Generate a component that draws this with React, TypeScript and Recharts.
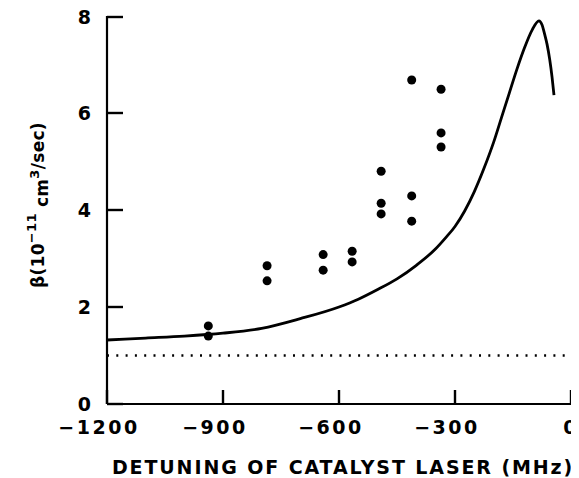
import {
  ComposedChart, Line, Scatter, XAxis, YAxis, ReferenceLine,
} from 'recharts'

// calculated rate curve
const curveDetuning = [-1200, -1100, -1000, -900, -800, -700, -600, -550, -500, -450, -400, -350, -325, -300, -275, -250, -225, -200, -180, -160, -140, -120, -100, -83, -75, -68, -62, -55, -49, -44]
const curveBeta = [1.32, 1.36, 1.40, 1.46, 1.56, 1.76, 2.0, 2.16, 2.36, 2.58, 2.86, 3.2, 3.42, 3.66, 3.98, 4.38, 4.86, 5.4, 5.9, 6.4, 6.9, 7.35, 7.72, 7.9, 7.82, 7.62, 7.42, 7.1, 6.74, 6.37]

// measured points
const pointDetuning = [-938, -938, -786, -786, -641, -641, -566, -566, -491, -491, -491, -412, -412, -412, -336, -336, -336]
const pointBeta = [1.61, 1.40, 2.85, 2.54, 3.08, 2.76, 3.15, 2.93, 4.80, 4.14, 3.92, 6.68, 4.29, 3.77, 6.49, 5.59, 5.30]

const baseline = 1

const xTicks = [-1200, -900, -600, -300, 0]
const yTicks = [0, 2, 4, 6, 8]

const curve = curveDetuning.map((d, i) => ({ detuning: d, beta: curveBeta[i] }))
const points = pointDetuning.map((d, i) => ({ detuning: d, beta: pointBeta[i] }))

const FONT = '"DejaVu Sans", sans-serif'
const frame = { stroke: '#000', strokeWidth: 2.2 }

// inward tick mark; digits centred on the tick, the minus sign hangs to the left
function XTick({ x, y, payload }: any) {
  const v = payload.value as number
  const px = Number(x)
  const py = Number(y)
  return (
    <g>
      <rect x={px - 1.2} y={py - 14} width={2.4} height={14} fill="#000" />
      <text x={px} y={py + 30} dx={v < 0 ? -8 : 0} textAnchor="middle"
        fontFamily={FONT} fontWeight="bold" fontSize={19} letterSpacing={2.5} fill="#000">
        {v < 0 ? `\u2212${Math.abs(v)}` : v}
      </text>
    </g>
  )
}

function YTick({ x, y, payload }: any) {
  const px = Number(x)
  const py = Number(y)
  return (
    <g>
      <rect x={px} y={py - 1.2} width={16} height={2.4} fill="#000" />
      <text x={px - 16} y={py} dy="0.36em" textAnchor="end"
        fontFamily={FONT} fontWeight="bold" fontSize={19} fill="#000">
        {payload.value}
      </text>
    </g>
  )
}

function YTitle({ viewBox }: any) {
  const cx = viewBox.x + 36
  const cy = viewBox.y + viewBox.height / 2 - 5
  return (
    <text x={cx} y={cy} transform={`rotate(-90 ${cx} ${cy})`} textAnchor="middle"
      fontFamily={FONT} fontWeight="bold" fontSize={17} letterSpacing={0.3} fill="#000">
      <tspan>β(10</tspan>
      <tspan dy={-8} fontSize={13}>−11</tspan>
      <tspan dy={12}> cm</tspan>
      <tspan dy={-9} fontSize={13}>3</tspan>
      <tspan dy={5}>/sec)</tspan>
    </text>
  )
}

function XTitle({ viewBox }: any) {
  return (
    <text x={viewBox.x + viewBox.width / 2 + 4} y={viewBox.y + 70} textAnchor="middle"
      fontFamily={FONT} fontWeight="bold" fontSize={19} letterSpacing={1.9} fill="#000">
      DETUNING OF CATALYST LASER (MHz)
    </text>
  )
}

export default function App() {
  return (
    <ComposedChart width={571} height={470} margin={{ top: 8, right: 8, bottom: 0, left: 0 }}
      style={{ overflow: 'visible' }}>
      <XAxis dataKey="detuning" type="number" domain={[-1200, 0]} ticks={xTicks}
        allowDataOverflow height={74} axisLine={frame}
        tickLine={false} tickSize={0} tickMargin={0}
        tick={<XTick />} label={{ content: XTitle }} />
      <YAxis type="number" domain={[0, 8]} ticks={yTicks} allowDataOverflow width={99}
        axisLine={frame} tickLine={false} tickSize={0}
        tickMargin={0} tick={<YTick />} label={{ content: YTitle }} />
      {/* top and right edges of the box */}
      <XAxis xAxisId="top" orientation="top" type="number" domain={[-1200, 0]} height={0}
        axisLine={frame} tick={false} tickLine={false} />
      <YAxis yAxisId="right" orientation="right" type="number" domain={[0, 8]} width={0}
        axisLine={frame} tick={false} tickLine={false} />
      <ReferenceLine y={baseline} stroke="#000" strokeWidth={2.4} strokeDasharray="2 7.3" />
      <Line data={curve} dataKey="beta" type="monotone" stroke="#000" strokeWidth={2.8}
        dot={false} isAnimationActive={false} />
      <Scatter data={points} dataKey="beta" fill="#000" isAnimationActive={false}
        shape={(p: any) => <circle cx={p.cx} cy={p.cy} r={4.5} fill="#000" />} />
    </ComposedChart>
  )
}
